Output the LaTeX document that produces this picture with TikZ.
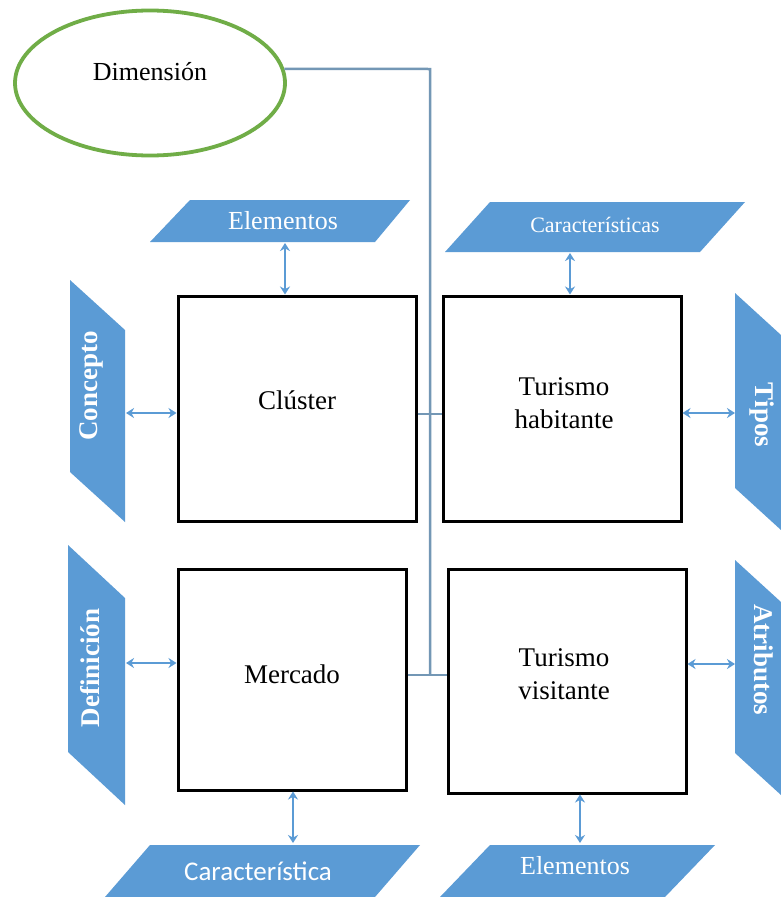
\documentclass[tikz,border=0pt]{standalone}
\usepackage{fontspec}
\setmainfont{Liberation Serif}
\newfontfamily\sansfam{Carlito}
\usetikzlibrary{arrows.meta,shapes.geometric}
\definecolor{pblue}{HTML}{5B9BD5}
\definecolor{linkblue}{HTML}{7397B5}
\definecolor{egreen}{HTML}{70AD47}
\begin{document}
\begin{tikzpicture}[x=1pt,y=-1pt,
  box/.style={draw=black,line width=3pt,fill=white,inner sep=0pt},
  boxtext/.style={inner sep=0pt,align=center,font=\rmfamily\fontsize{27}{33}\selectfont},
  pshape/.style={fill=pblue},
  ptext/.style={text=white,inner sep=0pt,font=\rmfamily\fontsize{26}{30}\selectfont},
  vtext/.style={text=white,inner sep=0pt,font=\rmfamily\bfseries\fontsize{27}{30}\selectfont},
  dbl/.style={draw=pblue,line width=2.6pt,
    {Stealth[length=8pt,width=10pt]}-{Stealth[length=8pt,width=10pt]}},
  link/.style={draw=linkblue,line width=2.5pt}]
\useasboundingbox (0,0) rectangle (781,897);
\clip (0,0) rectangle (781,897);
\fill[white] (0,0) rectangle (781,897);

% dimension ellipse and the central link running down the middle
\node[ellipse,draw=egreen,line width=3.8pt,minimum width=270pt,minimum height=145pt,
  inner sep=0pt] (dim) at (150,83) {};
\node[boxtext,font=\rmfamily\fontsize{26}{30}\selectfont] (dimT) at (150,72) {Dimensión};
\coordinate (turn) at (430,69);
\coordinate (foot) at (430,675);
\draw[link] (dim.6) -- (turn) -- (foot);

% the four main boxes
\node[box,minimum width=238pt,minimum height=225pt] (clus) at (297,408.5) {};
\node[boxtext] (clusT) at (297,400) {Clúster};
\node[box,minimum width=238pt,minimum height=225pt] (hab) at (562,408.5) {};
\node[boxtext] (habT) at (564,403) {Turismo\\habitante};
\node[box,minimum width=228pt,minimum height=221pt] (merc) at (292,679.5) {};
\node[boxtext] (mercT) at (292,674) {Mercado};
\node[box,minimum width=238pt,minimum height=224pt] (vis) at (567,681) {};
\node[boxtext] (visT) at (564,674) {Turismo\\visitante};

% cross links between the boxes
\coordinate (rowA) at (430,414);
\coordinate (rowB) at (430,675);
\draw[link] (clus.east |- rowA) -- (hab.west |- rowA);
\draw[link] (merc.east |- rowB) -- (vis.west |- rowB);

% top parallelograms
\fill[pshape] (150,242) -- (190,200) -- (410,200) -- (375,242) -- cycle;
\node[ptext] (elemT) at (283,221) {Elementos};
\fill[pshape] (445,252) -- (490,202) -- (745,202) -- (700,252) -- cycle;
\node[ptext,font=\rmfamily\fontsize{22}{26}\selectfont] (carT) at (595,225) {Características};

% left parallelograms
\fill[pshape] (70,280) -- (125,330) -- (125,522) -- (70,472) -- cycle;
\node[vtext,rotate=90] (conc) at (91,386) {Concepto};
\fill[pshape] (68,545) -- (125,598) -- (125,805) -- (68,752) -- cycle;
\node[vtext,rotate=90] (defi) at (90,668) {Definición};

% right parallelograms
\fill[pshape] (735,293) -- (781,335) -- (781,530) -- (735,488) -- cycle;
\node[vtext,rotate=-90] (tipo) at (762,415) {Tipos};
\fill[pshape] (735,560) -- (781,602) -- (781,795) -- (735,753) -- cycle;
\node[vtext,rotate=-90] (atri) at (764,660) {Atributos};

% bottom parallelograms
\fill[pshape] (105,897) -- (150,845) -- (420,845) -- (375,897) -- cycle;
\node[ptext,font=\sansfam\fontsize{27}{30}\selectfont] (carB) at (258,871) {Característica};
\fill[pshape] (440,897) -- (490,845) -- (715,845) -- (665,897) -- cycle;
\node[ptext] (elemB) at (575,866) {Elementos};

% attachment points on the parallelogram edges
\coordinate (pElemT) at (285,243);
\coordinate (pCarT) at (570,253);
\coordinate (pConc) at (126,413);
\coordinate (pDefi) at (126,663);
\coordinate (pTipo) at (735,413);
\coordinate (pAtri) at (735,664);
\coordinate (pCarB) at (293,843);
\coordinate (pElemB) at (580,843);

% double-headed arrows
\draw[dbl] (pElemT) -- (clus.north -| pElemT);
\draw[dbl] (pCarT) -- (hab.north -| pCarT);
\draw[dbl] (pConc) -- (clus.west |- pConc);
\draw[dbl] (pDefi) -- (merc.west |- pDefi);
\draw[dbl] (hab.east |- pTipo) -- (pTipo);
\draw[dbl] (vis.east |- pAtri) -- (pAtri);
\draw[dbl] (merc.south -| pCarB) -- (pCarB);
\draw[dbl] (vis.south -| pElemB) -- (pElemB);
\end{tikzpicture}
\end{document}
